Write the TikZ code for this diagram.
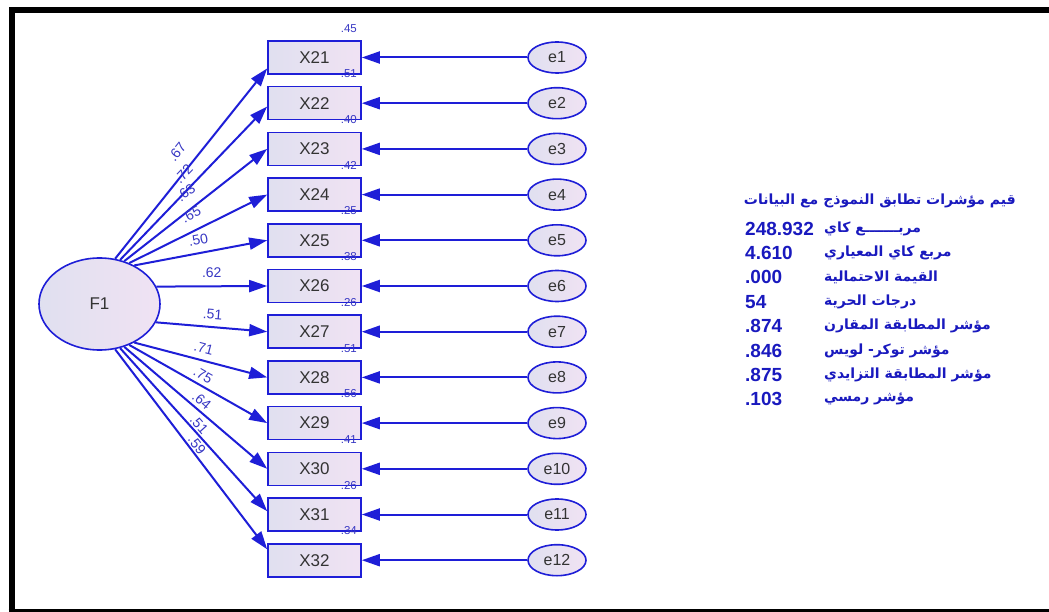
\documentclass[tikz,border=0pt]{standalone}
\usepackage{fontspec}
\setmainfont{Liberation Sans}
\newfontfamily\arabicfont[Script=Arabic]{DejaVu Sans}
\TeXXeTstate=1
\usepackage{xcolor}
\usetikzlibrary{shapes.geometric, arrows.meta, positioning}

\definecolor{amosblue}{RGB}{30,30,215}
\definecolor{fillleft}{RGB}{224,224,240}
\definecolor{fillright}{RGB}{240,226,243}
\definecolor{coeftext}{RGB}{55,55,195}
\definecolor{fittext}{RGB}{25,25,190}

\tikzstyle{obs} = [rectangle, draw=amosblue, line width=1.6pt,
left color=fillleft, right color=fillright,
minimum width=93pt, minimum height=33pt,
text=black!80, font=\fontsize{17}{17}\selectfont]
\tikzstyle{err} = [ellipse, draw=amosblue, line width=1.6pt,
left color=fillleft, right color=fillright,
minimum width=58pt, minimum height=31pt, inner sep=0pt,
text=black!80, font=\fontsize{16}{16}\selectfont]
\tikzstyle{arrow} = [amosblue, line width=2pt, -{Triangle[length=18pt, width=12pt]}]

\begin{document}
\begin{tikzpicture}[x=1pt, y=-1pt,
        latent/.style={ellipse, draw=amosblue, line width=1.6pt, left color=fillleft, right color=fillright,
            minimum width=121pt, minimum height=92pt, text=black!80, font=\fontsize{17}{17}\selectfont},
        loading/.style={midway, sloped, inner sep=1pt, text=coeftext, font=\fontsize{14}{14}\selectfont},
        rsq/.style={inner sep=0pt, text=coeftext, font=\fontsize{11.5}{11.5}\selectfont},
        fitval/.style={anchor=west, inner sep=0pt, text=fittext, font=\bfseries\fontsize{19}{19}\selectfont},
        fitlbl/.style={anchor=west, inner sep=0pt, text=fittext, font=\arabicfont\bfseries\fontsize{14}{14}\selectfont},
    ]
        \useasboundingbox (0,0) rectangle (1049,612);
        % frame
        \draw[line width=6pt] (11.5,612) -- (11.5,10.5) -- (1049,10.5);
        \draw[line width=3pt] (8.5,610.5) -- (1049,610.5);

        \node[latent] (F1) at (99.5,304) {F1};

        \foreach \i/\ld/\rs/\from/\to/\off [count=\k from 1] in {21/.67/.45/71/193/11, 22/.72/.51/65/184/7,
            23/.63/.40/60/180/9, 24/.65/.42/54/180/9, 25/.50/.25/48/180/6, 26/.62/.38/17/180/7,
            27/.51/.26/342/180/6, 28/.71/.51/312/180/5.5, 29/.75/.56/306/180/3, 30/.64/.41/300/180/2.3,
            31/.51/.26/295/176/0.5, 32/.59/.34/289/167/0.5} {
            \node[obs] (X\i) at (314.5, 57.5+45.7*\k-45.7) {X\i};
            \node[err] (e\k) at (557, 57.5+45.7*\k-45.7) {e\k};
            \draw[arrow] (e\k) -- (X\i);
            \draw[arrow] (F1.\from) -- node[loading, above=\off pt] {\ld} (X\i.\to);
            \node[rsq] (r\i) at ([xshift=-13pt, yshift=12pt]X\i.north east) {\rs};
        }

        % fit indices
        \node[fitlbl, anchor=east] (fittitle) at (1016,201) {\beginR قيم مؤشرات تطابق النموذج مع البيانات\endR};
        \foreach \val/\lbl [count=\r from 0] in {248.932/مربـــــــع كاي, 4.610/مربع كاي المعياري,
            {.\kern0pt 000}/القيمة الاحتمالية, 54/درجات الحرية, {.\kern0pt 874}/مؤشر المطابقة المقارن,
            {.\kern0pt 846}/مؤشر توكر- لويس, {.\kern0pt 875}/مؤشر المطابقة التزايدي, {.\kern0pt 103}/مؤشر رمسي} {
            \node[fitval] (val\r) at (745, 228.6+24.4*\r) {\beginL\val\endL};
            \node[fitlbl] (lbl\r) at (824, 228.6+24.4*\r) {\beginR\lbl\endR};
        }
\end{tikzpicture}
\end{document}
